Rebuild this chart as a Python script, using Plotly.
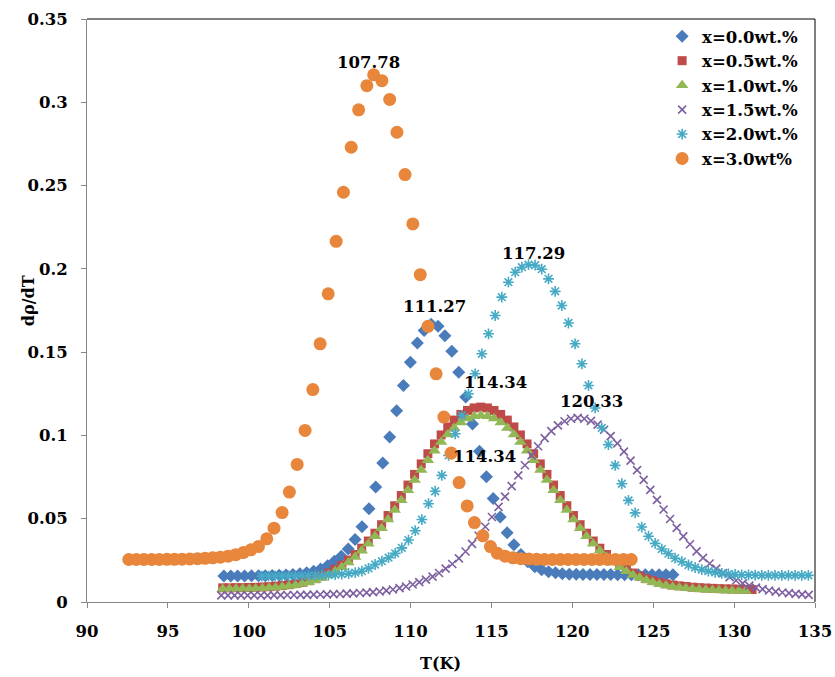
import plotly.graph_objects as go

# ---------------- data ----------------
T_00 = [98.46, 98.89, 99.31, 99.74, 100.17, 100.60, 101.02, 101.45, 101.88, 102.30,
        102.73, 103.16, 103.58, 104.01, 104.44, 104.87, 105.29, 105.72, 106.15, 106.57,
        107.00, 107.43, 107.85, 108.28, 108.71, 109.14, 109.56, 109.99, 110.42, 110.84,
        111.27, 111.70, 112.12, 112.55, 112.98, 113.41, 113.83, 114.26, 114.69, 115.11,
        115.54, 115.97, 116.39, 116.82, 117.25, 117.68, 118.10, 118.53, 118.96, 119.38,
        119.81, 120.24, 120.66, 121.09, 121.52, 121.95, 122.37, 122.80, 123.23, 123.65,
        124.08, 124.51, 124.93, 125.36, 125.79, 126.22]
V_00 = [.0156, .0156, .0156, .0156, .0157, .0157, .0158, .0159, .0160, .0162,
        .0165, .0169, .0175, .0184, .0198, .0218, .0245, .0275, .0318, .0375,
        .0452, .0560, .0690, .0835, .0990, .1148, .1300, .1440, .1555, .1630,
        .1668, .1655, .1598, .1505, .1380, .1230, .1068, .0905, .0752, .0622,
        .0510, .0415, .0343, .0285, .0242, .0212, .0194, .0182, .0175, .0170,
        .0167, .0166, .0165, .0165, .0165, .0165, .0165, .0164, .0164, .0164,
        .0164, .0163, .0163, .0163, .0163, .0163]

T_05 = [98.39, 98.80, 99.21, 99.62, 100.03, 100.43, 100.84, 101.25, 101.66, 102.07,
        102.48, 102.89, 103.30, 103.71, 104.12, 104.52, 104.93, 105.34, 105.75, 106.16,
        106.57, 106.98, 107.39, 107.80, 108.21, 108.61, 109.02, 109.43, 109.84, 110.25,
        110.66, 111.07, 111.48, 111.89, 112.30, 112.70, 113.11, 113.52, 113.93, 114.34,
        114.75, 115.16, 115.57, 115.98, 116.39, 116.79, 117.20, 117.61, 118.02, 118.43,
        118.84, 119.25, 119.66, 120.07, 120.48, 120.88, 121.29, 121.70, 122.11, 122.52,
        122.93, 123.34, 123.75, 124.16, 124.57, 124.97, 125.38, 125.79, 126.20, 126.61,
        127.02, 127.43, 127.84, 128.25, 128.66, 129.06, 129.47, 129.88, 130.29, 130.70,
        131.11]
V_05 = [.0085, .0085, .0086, .0086, .0087, .0088, .0090, .0092, .0095, .0099,
        .0104, .0110, .0118, .0128, .0140, .0156, .0174, .0196, .0221, .0251,
        .0285, .0323, .0366, .0413, .0464, .0519, .0578, .0639, .0702, .0766,
        .0829, .0890, .0949, .1003, .1051, .1092, .1126, .1150, .1165, .1170,
        .1165, .1150, .1126, .1092, .1051, .1003, .0949, .0890, .0829, .0766,
        .0702, .0639, .0578, .0519, .0464, .0413, .0366, .0323, .0285, .0251,
        .0221, .0196, .0174, .0156, .0140, .0128, .0117, .0109, .0102, .0097,
        .0093, .0089, .0086, .0084, .0082, .0080, .0079, .0078, .0077, .0076,
        .0075]

T_10 = [98.39, 98.80, 99.21, 99.62, 100.03, 100.43, 100.84, 101.25, 101.66, 102.07,
        102.48, 102.89, 103.30, 103.71, 104.12, 104.52, 104.93, 105.34, 105.75, 106.16,
        106.57, 106.98, 107.39, 107.80, 108.21, 108.61, 109.02, 109.43, 109.84, 110.25,
        110.66, 111.07, 111.48, 111.89, 112.30, 112.70, 113.11, 113.52, 113.93, 114.34,
        114.75, 115.16, 115.57, 115.98, 116.39, 116.79, 117.20, 117.61, 118.02, 118.43,
        118.84, 119.25, 119.66, 120.07, 120.48, 120.88, 121.29, 121.70, 122.11, 122.52,
        122.93, 123.34, 123.75, 124.16, 124.57, 124.97, 125.38, 125.79, 126.20, 126.61,
        127.02, 127.43, 127.84, 128.25, 128.66, 129.06, 129.47, 129.88, 130.29, 130.70]
V_10 = [.0078, .0078, .0079, .0079, .0080, .0081, .0083, .0085, .0087, .0091,
        .0096, .0101, .0109, .0118, .0130, .0145, .0162, .0184, .0208, .0237,
        .0270, .0307, .0349, .0394, .0443, .0496, .0552, .0611, .0671, .0733,
        .0793, .0851, .0908, .0960, .1006, .1045, .1078, .1101, .1115, .1120,
        .1115, .1101, .1078, .1045, .1006, .0960, .0908, .0851, .0793, .0733,
        .0671, .0611, .0552, .0496, .0443, .0394, .0349, .0307, .0270, .0237,
        .0208, .0184, .0162, .0145, .0130, .0118, .0107, .0099, .0092, .0087,
        .0083, .0079, .0076, .0074, .0072, .0070, .0069, .0068, .0067, .0066]

T_15 = [98.30, 98.71, 99.12, 99.52, 99.93, 100.34, 100.75, 101.16, 101.56, 101.97,
        102.38, 102.79, 103.20, 103.60, 104.01, 104.42, 104.83, 105.24, 105.64, 106.05,
        106.46, 106.87, 107.28, 107.68, 108.09, 108.50, 108.91, 109.32, 109.72, 110.13,
        110.54, 110.95, 111.36, 111.76, 112.17, 112.58, 112.99, 113.40, 113.80, 114.21,
        114.62, 115.03, 115.44, 115.84, 116.25, 116.66, 117.07, 117.48, 117.88, 118.29,
        118.70, 119.11, 119.52, 119.92, 120.33, 120.74, 121.15, 121.56, 121.96, 122.37,
        122.78, 123.19, 123.60, 124.00, 124.41, 124.82, 125.23, 125.64, 126.04, 126.45,
        126.86, 127.27, 127.68, 128.08, 128.49, 128.90, 129.31, 129.72, 130.12, 130.53,
        130.94, 131.35, 131.76, 132.16, 132.57, 132.98, 133.39, 133.80, 134.20, 134.61,
        135.02]
V_15 = [.0040, .0040, .0040, .0040, .0040, .0040, .0040, .0040, .0041, .0041,
        .0042, .0042, .0043, .0043, .0044, .0045, .0046, .0047, .0048, .0050,
        .0052, .0054, .0056, .0059, .0063, .0068, .0075, .0083, .0093, .0105,
        .0119, .0134, .0152, .0174, .0200, .0228, .0262, .0303, .0349, .0398,
        .0452, .0510, .0571, .0633, .0696, .0760, .0821, .0880, .0935, .0984,
        .1026, .1060, .1085, .1100, .1105, .1100, .1087, .1065, .1034, .0996,
        .0952, .0903, .0849, .0792, .0733, .0673, .0613, .0555, .0498, .0445,
        .0394, .0347, .0304, .0265, .0231, .0200, .0173, .0149, .0129, .0112,
        .0098, .0086, .0077, .0069, .0062, .0057, .0053, .0049, .0046, .0043,
        .0040]

T_20 = [100.81, 101.22, 101.63, 102.05, 102.46, 102.87, 103.28, 103.69, 104.11, 104.52,
        104.93, 105.34, 105.75, 106.17, 106.58, 106.99, 107.40, 107.81, 108.23, 108.64,
        109.05, 109.46, 109.87, 110.29, 110.70, 111.11, 111.52, 111.93, 112.35, 112.76,
        113.17, 113.58, 113.99, 114.41, 114.82, 115.23, 115.64, 116.05, 116.47, 116.88,
        117.29, 117.70, 118.11, 118.53, 118.94, 119.35, 119.76, 120.17, 120.59, 121.00,
        121.41, 121.82, 122.23, 122.65, 123.06, 123.47, 123.88, 124.29, 124.71, 125.12,
        125.53, 125.94, 126.35, 126.77, 127.18, 127.59, 128.00, 128.41, 128.83, 129.24,
        129.65, 130.06, 130.47, 130.89, 131.30, 131.71, 132.12, 132.53, 132.95, 133.36,
        133.77, 134.18, 134.59, 135.01]
V_20 = [.0155, .0155, .0155, .0155, .0156, .0156, .0157, .0158, .0159, .0160,
        .0162, .0164, .0167, .0171, .0176, .0185, .0202, .0225, .0245, .0266,
        .0292, .0325, .0372, .0428, .0495, .0590, .0665, .0760, .0880, .1010,
        .1120, .1250, .1370, .1490, .1610, .1720, .1830, .1920, .1980, .2010,
        .2025, .2022, .1998, .1940, .1865, .1780, .1675, .1550, .1430, .1300,
        .1165, .1045, .0945, .0820, .0710, .0610, .0535, .0450, .0395, .0352,
        .0318, .0290, .0263, .0242, .0222, .0207, .0194, .0185, .0178, .0172,
        .0168, .0165, .0163, .0162, .0161, .0160, .0160, .0160, .0160, .0160,
        .0160, .0160, .0160, .0160]

T_30 = [92.58, 93.05, 93.52, 94.00, 94.47, 94.94, 95.41, 95.88, 96.36, 96.83,
        97.30, 97.77, 98.24, 98.72, 99.19, 99.66, 100.13, 100.60, 101.11, 101.56,
        102.06, 102.51, 102.99, 103.48, 103.96, 104.41, 104.91, 105.40, 105.85, 106.33,
        106.79, 107.30, 107.72, 108.23, 108.71, 109.16, 109.66, 110.14, 110.60, 111.08,
        111.58, 112.06, 112.51, 113.00, 113.50, 113.95, 114.47, 114.94, 115.36, 115.84,
        116.33, 116.82, 117.31, 117.79, 118.28, 118.77, 119.26, 119.74, 120.23, 120.72,
        121.21, 121.69, 122.18, 122.67, 123.16, 123.64]
V_30 = [.0255, .0255, .0255, .0255, .0255, .0256, .0256, .0257, .0258, .0260,
        .0262, .0265, .0269, .0275, .0284, .0297, .0313, .0333, .0379, .0443,
        .0537, .0660, .0826, .1030, .1275, .1550, .1850, .2165, .2460, .2730,
        .2955, .3100, .3165, .3130, .3017, .2820, .2566, .2270, .1965, .1655,
        .1370, .1110, .0894, .0717, .0577, .0477, .0397, .0333, .0293, .0275,
        .0265, .0260, .0258, .0256, .0255, .0255, .0255, .0255, .0255, .0255,
        .0255, .0255, .0255, .0255, .0255, .0255]

NAMES = ["x=0.0wt.%", "x=0.5wt.%", "x=1.0wt.%", "x=1.5wt.%", "x=2.0wt.%", "x=3.0wt%"]
PEAK_LABELS = ["111.27", "114.34", "114.34", "120.33", "117.29", "107.78"]
X_TICKS = [90, 95, 100, 105, 110, 115, 120, 125, 130, 135]
Y_TICKS = [0, 0.05, 0.1, 0.15, 0.2, 0.25, 0.3, 0.35]
X_TITLE = "T(K)"
Y_TITLE = "dρ/dT"

series = [(T_00, V_00), (T_05, V_05), (T_10, V_10), (T_15, V_15), (T_20, V_20), (T_30, V_30)]

# ---------------- styles ----------------
COLORS = ["#4A7CBB", "#BE4B48", "#92B755", "#7D60A0", "#46AAC5", "#E8863C"]
MARKERS = [
    dict(symbol="diamond", size=10),
    dict(symbol="square", size=9),
    dict(symbol="triangle-up", size=11),
    dict(symbol="x-thin-open", size=8, line=dict(width=1.6)),
    dict(symbol="asterisk-open", size=9, line=dict(width=1.6)),
    dict(symbol="circle", size=13),
]
# label offsets in px relative to each series' peak point
LABEL_SHIFT = [(3, 18), (15, 25), (4, -41), (14, 16), (5, 11), (-5, 12)]

FONT = "DejaVu Serif"

fig = go.Figure()
for (t, v), name, col, mk in zip(series, NAMES, COLORS, MARKERS):
    m = dict(mk)
    m["color"] = col
    if "line" in m:
        m["line"] = dict(m["line"], color=col)
    else:
        m["line"] = dict(width=0)
    fig.add_trace(go.Scatter(x=t, y=v, mode="markers", name=name, marker=m,
                             cliponaxis=False))

annotations = []
for (t, v), lab, (dx, dy) in zip(series, PEAK_LABELS, LABEL_SHIFT):
    i = max(range(len(v)), key=lambda j: v[j])
    annotations.append(dict(x=t[i], y=v[i], xref="x", yref="y", text="<b>%s</b>" % lab,
                            showarrow=False, xshift=dx, yshift=dy,
                            font=dict(family=FONT, size=16.5, color="black")))
# axis titles
annotations.append(dict(x=0.486, y=0, xref="paper", yref="paper", text="<b>%s</b>" % X_TITLE,
                        showarrow=False, yshift=-61, yanchor="middle",
                        font=dict(family=FONT, size=16, color="black")))
annotations.append(dict(x=0, y=0.516, xref="paper", yref="paper", text="<b>%s</b>" % Y_TITLE,
                        showarrow=False, xshift=-59, xanchor="center", textangle=-90,
                        font=dict(family=FONT, size=16, color="black")))

fig.update_layout(
    width=835, height=677,
    margin=dict(l=87, r=20, t=19, b=75, autoexpand=False),
    paper_bgcolor="white", plot_bgcolor="white",
    font=dict(family=FONT, color="black"),
    showlegend=True,
    legend=dict(x=0.79, y=1.0, xanchor="left", yanchor="top",
                bgcolor="rgba(0,0,0,0)", borderwidth=0,
                font=dict(family=FONT, size=16.5, color="black", weight="bold"),
                itemsizing="trace", tracegroupgap=0),
    annotations=annotations,
    xaxis=dict(range=[90, 135], tickmode="array", tickvals=X_TICKS,
               showgrid=False, zeroline=False, automargin=False,
               showline=True, linecolor="#868686", linewidth=1,
               ticks="outside", ticklen=5, tickcolor="#868686",
               ticklabelstandoff=9,
               tickfont=dict(family=FONT, size=16.5, color="black", weight="bold")),
    yaxis=dict(range=[0, 0.35], tickmode="array", tickvals=Y_TICKS,
               showgrid=False, zeroline=False, automargin=False,
               showline=True, linecolor="#868686", linewidth=1,
               ticks="outside", ticklen=5, tickcolor="#868686",
               ticklabelstandoff=10,
               tickfont=dict(family=FONT, size=16.5, color="black", weight="bold")),
    shapes=[
        dict(type="line", xref="paper", yref="paper", x0=0, x1=1, y0=1, y1=1,
             line=dict(color="black", width=1)),
        dict(type="line", xref="paper", yref="paper", x0=1, x1=1, y0=0, y1=1,
             line=dict(color="black", width=1)),
    ],
)

fig.write_html("out.html", config={"displayModeBar": False},
               post_script="document.body.style.margin='0';")
